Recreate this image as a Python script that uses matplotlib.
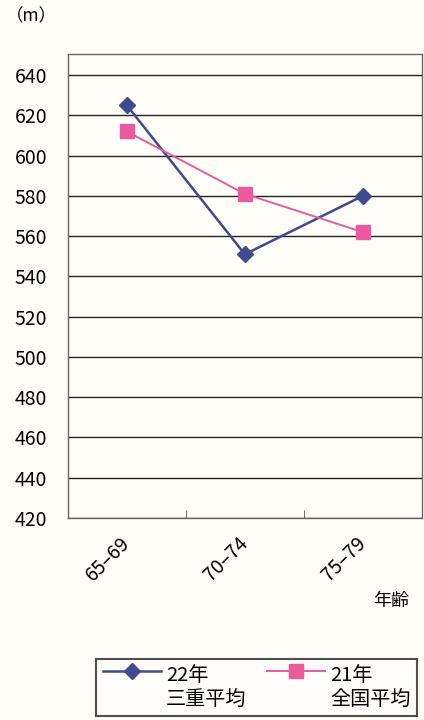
import matplotlib
matplotlib.use('Agg')
import matplotlib.pyplot as plt
import matplotlib.transforms as mtransforms
from matplotlib.ticker import FixedLocator
from matplotlib.legend_handler import HandlerLine2D

plt.rcParams['font.family'] = ['Noto Sans CJK JP', 'DejaVu Sans']

ages = ['65–69', '70–74', '75–79']
mie_22 = [625, 551, 580]      # 22年 三重平均
zenkoku_21 = [612, 581, 562]  # 21年 全国平均
yticks = list(range(420, 641, 20))

bg = '#fffef8'
navy = '#3f4a8f'
pink = '#ea5a9e'


# legend handle sits on the first line of a two-line label
class TopLineHandler(HandlerLine2D):
    def create_artists(self, legend, orig_handle, xdescent, ydescent,
                       width, height, fontsize, trans):
        arts = super().create_artists(legend, orig_handle, xdescent, ydescent,
                                      width, height, fontsize, trans)
        shift = mtransforms.Affine2D().translate(0, 0.85 * fontsize)
        for a in arts:
            a.set_transform(shift + trans)
        return arts


fig = plt.figure(figsize=(4.24, 7.2), dpi=100, facecolor=bg)
ax = fig.add_axes([0.160, 0.2806, 0.835, 0.6444], facecolor=bg)

x = range(len(ages))
l1, = ax.plot(x, mie_22, color=navy, lw=1.8, marker='D', ms=8, label='22年\n三重平均', zorder=3)
l2, = ax.plot(x, zenkoku_21, color=pink, lw=1.4, marker='s', ms=10, label='21年\n全国平均', zorder=3)

ax.set_ylim(420, 650.5)
ax.set_xlim(-0.5, 2.5)
ax.set_yticks(yticks)
ax.yaxis.grid(True, color='#222222', lw=1.0)
ax.tick_params(axis='y', length=0, labelsize=14, pad=15)
ax.set_xticks(list(x))
ax.set_xticklabels(ages, rotation=45, ha='right', va='center', rotation_mode='anchor', fontsize=14)
ax.tick_params(axis='x', which='major', length=0, pad=16)
ax.xaxis.set_minor_locator(FixedLocator([0.5, 1.5]))
ax.tick_params(axis='x', which='minor', direction='in', length=6, color='#555555')
for s in ax.spines.values():
    s.set_color('#666666')
    s.set_linewidth(1.0)

fig.text(0.015, 0.978, '（m）', fontsize=12.5, va='center', ha='left')
fig.text(0.922, 0.165, '年齢', fontsize=13, va='center', ha='center')

hm = {l1: TopLineHandler(), l2: TopLineHandler()}
leg = fig.legend(loc='center', bbox_to_anchor=(0.605, 0.045), ncol=2, fontsize=14.5,
                 frameon=True, fancybox=False, edgecolor='#222222', handlelength=2.9,
                 columnspacing=1.0, borderpad=0.3, handletextpad=0.25, labelspacing=0.1,
                 borderaxespad=0, handler_map=hm)
leg.get_frame().set_linewidth(1.5)

fig.savefig('out.png', dpi=100, facecolor=bg)
